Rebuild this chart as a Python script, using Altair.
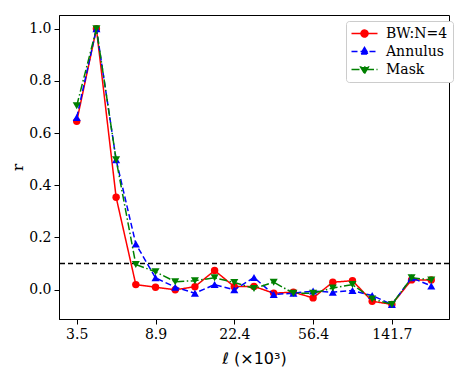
import altair as alt
import pandas as pd

# ---- data ----
x_index = list(range(19))
tick_positions = [0, 4, 8, 12, 16]
tick_labels = ["3.5", "8.9", "22.4", "56.4", "141.7"]

series_names = ["BW:N=4", "Annulus", "Mask"]
bw = [0.645, 1.0, 0.354, 0.019, 0.009, -0.001, 0.011, 0.073, 0.011, 0.012,
      -0.014, -0.010, -0.032, 0.028, 0.034, -0.045, -0.057, 0.037, 0.037]
annulus = [0.660, 1.0, 0.498, 0.175, 0.045, 0.009, -0.014, 0.019, -0.001, 0.046,
           -0.019, -0.014, -0.006, -0.010, -0.004, -0.023, -0.057, 0.045, 0.014]
mask = [0.705, 1.0, 0.498, 0.096, 0.068, 0.030, 0.034, 0.045, 0.027, 0.004,
        0.028, -0.014, -0.014, 0.006, 0.019, -0.036, -0.057, 0.045, 0.037]
threshold = [0.1]

colors = ["#ff0000", "#0000ff", "#008000"]
dashes = [[1, 0], [6, 3], [8, 2.5, 1.5, 2.5]]
shapes = ["circle", "triangle-up", "triangle-down"]
# legend glyphs: short line with the marker in the middle (unit = half symbol width)
legend_paths = [
    "M-2,0L2,0M0.54,0A0.54,0.54,0,1,1,-0.54,0A0.54,0.54,0,1,1,0.54,0Z",
    "M-2,0L2,0M0,-0.62L0.6,0.4L-0.6,0.4Z",
    "M-2,0L2,0M0,0.62L0.6,-0.4L-0.6,-0.4Z",
]

rows = []
for name, vals in zip(series_names, [bw, annulus, mask]):
    for xi, v in zip(x_index, vals):
        rows.append({"x": xi, "r": v, "series": name})
df = pd.DataFrame(rows)

label_expr = "[" + ",".join(f"'{t}'" for t in tick_labels) + "][datum.value/4]"

x_enc = alt.X("x:Q", scale=alt.Scale(domain=[-0.9, 18.9], nice=False, zero=False),
              axis=alt.Axis(values=tick_positions, labelExpr=label_expr,
                            title="ℓ (×10³)", titleFont="DejaVu Sans",
                            titleFontSize=16, titleFontWeight="normal",
                            titlePadding=9))
y_enc = alt.Y("r:Q", scale=alt.Scale(domain=[-0.113, 1.053], nice=False, zero=False),
              axis=alt.Axis(values=[0, 0.2, 0.4, 0.6, 0.8, 1.0], format=".1f",
                            title="r", titleFont="DejaVu Serif", titleFontSize=15,
                            titleFontWeight="normal", titlePadding=3))

base = alt.Chart(df)

layers = []
rule = alt.Chart(pd.DataFrame({"t": threshold})).mark_rule(
    color="black", strokeWidth=1.5, strokeDash=[5, 3]
).encode(y=alt.Y("t:Q"))
layers.append(rule)

for name, c, d, s in zip(series_names, colors, dashes, shapes):
    sub = base.transform_filter(alt.datum.series == name)
    layers.append(sub.mark_line(color=c, strokeWidth=1.5, strokeDash=d)
                  .encode(x=x_enc, y=y_enc))
    layers.append(sub.mark_point(color=c, filled=True, opacity=1, shape=s,
                                 size=55 if s == "circle" else 65)
                  .encode(x=x_enc, y=y_enc))

leg = alt.Legend(title=None, orient="none", legendX=287, legendY=6,
                 fillColor="white", strokeColor="#cccccc", cornerRadius=3,
                 padding=5, symbolSize=169, symbolStrokeWidth=1.5,
                 symbolOffset=6, symbolOpacity=1,
                 labelFont="DejaVu Serif", labelFontSize=14,
                 labelColor="black", labelOffset=14, rowPadding=3)
legend_layer = base.mark_point(filled=True, opacity=0, strokeWidth=1.5).encode(
    x=x_enc, y=y_enc,
    fill=alt.Fill("series:N", scale=alt.Scale(domain=series_names, range=colors), legend=leg),
    stroke=alt.Stroke("series:N", scale=alt.Scale(domain=series_names, range=colors), legend=leg),
    shape=alt.Shape("series:N", scale=alt.Scale(domain=series_names, range=legend_paths), legend=leg),
    strokeDash=alt.StrokeDash("series:N", scale=alt.Scale(domain=series_names, range=dashes), legend=leg),
)
layers.append(legend_layer)

chart = alt.layer(*layers).properties(
    width=390, height=304,
    autosize=alt.AutoSizeParams(type="none"),
    padding={"left": 51, "top": 7, "right": 6, "bottom": 55},
).configure_view(
    stroke="black", strokeWidth=1
).configure_axis(
    labelFont="DejaVu Serif", labelFontSize=14, labelColor="black",
    domainColor="black", tickColor="black", tickSize=5, labelPadding=3,
    grid=False, titleColor="black", domainWidth=1, tickWidth=1
)

chart.save("out.html", embed_options={"renderer": "svg", "actions": False})
